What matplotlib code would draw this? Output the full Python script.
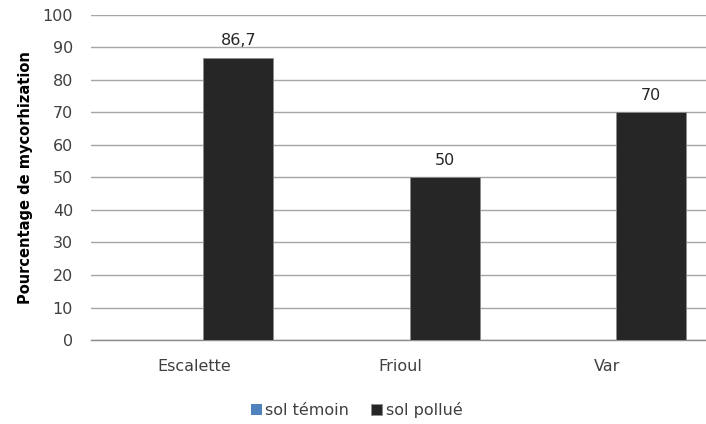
import numpy as np
from matplotlib import pyplot as plt

sites = ["Escalette", "Frioul", "Var"]
sol_temoin = [0, 0, 0]
sol_pollue = [86.7, 50, 70]
value_labels = ["86,7", "50", "70"]
y_ticks = list(range(0, 101, 10))

plt.rcParams["font.family"] = ["DejaVu Sans"]
text_color = "#404040"

fig = plt.figure(figsize=(7.06, 4.24), dpi=100)
ax = fig.add_axes([0.129, 0.198, 0.871, 0.767])

x = np.arange(len(sites))
width = 0.34
ax.bar(x - 0.127, sol_temoin, width, color="#4f81bd", linewidth=0, label="sol témoin")
bars = ax.bar(x + 0.213, sol_pollue, width, color="#262626",
              edgecolor="#8c8c8c", linewidth=0.6, label="sol pollué", zorder=3)

for bar, text in zip(bars, value_labels):
    ax.annotate(text, (bar.get_x() + bar.get_width() / 2, bar.get_height()),
                xytext=(0, 7), textcoords="offset points",
                ha="center", va="bottom", fontsize=11.5, color="#262626")

ax.set_xlim(-0.5, -0.5 + 615 / 206.5)
ax.set_ylim(0, 100)
ax.set_yticks(y_ticks)
ax.set_xticks(x)
ax.set_xticklabels(sites)
ax.tick_params(axis="both", length=0, labelsize=11.5, colors=text_color)
ax.tick_params(axis="y", pad=13)
ax.tick_params(axis="x", pad=14)

ax.yaxis.grid(True, color="#a6a6a6", linewidth=1)
ax.set_axisbelow(True)
for side in ["top", "right", "left"]:
    ax.spines[side].set_visible(False)
ax.spines["bottom"].set_color("#8c8c8c")
ax.spines["bottom"].set_linewidth(1)

ax.set_ylabel("Pourcentage de mycorhization", fontsize=10.5, fontweight="bold",
              color="black", labelpad=7)

fig.legend(loc="center", bbox_to_anchor=(0.505, 0.033), ncol=2, frameon=False,
           fontsize=11.5, handlelength=0.7, handleheight=0.7, handletextpad=0.2,
           columnspacing=1.4, labelcolor=text_color)

fig.savefig("out.png", dpi=100)
